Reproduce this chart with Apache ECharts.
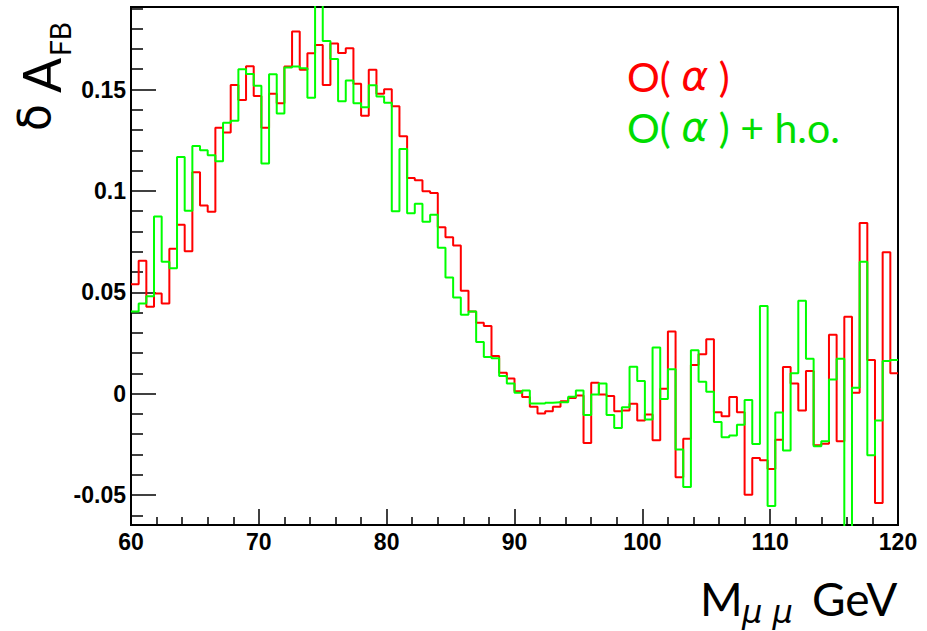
<!DOCTYPE html>
<html>
<head>
<meta charset="utf-8">
<title>delta A_FB vs M_mumu</title>
<script src="https://cdn.jsdelivr.net/npm/echarts@6.0.0/dist/echarts.min.js"></script>
<style>
html, body { margin: 0; padding: 0; background: #fff; }
#chart { width: 927px; height: 631px; }
</style>
</head>
<body>
<div id="chart"></div>
<script>
// 100 bins of 0.6 GeV between 60 and 120 GeV
var massLow = 60;
var binWidth = 0.6;

// O(alpha), red histogram
var afbOalpha = [
  0.054, 0.0656, 0.0428, 0.0494, 0.0445, 0.0714, 0.0833, 0.0702, 0.1092, 0.0928,
  0.0897, 0.1311, 0.1288, 0.1522, 0.1448, 0.1615, 0.1468, 0.1311, 0.1479, 0.1432,
  0.1613, 0.1786, 0.1597, 0.1679, 0.1719, 0.1522, 0.1727, 0.168, 0.1704, 0.1529,
  0.137, 0.1597, 0.1479, 0.1501, 0.1418, 0.127, 0.1063, 0.1052, 0.0998, 0.0989,
  0.0821, 0.0771, 0.073, 0.0507, 0.0405, 0.0349, 0.0333, 0.0186, 0.0103, 0.0075,
  0.0012, -0.0017, -0.0065, -0.0098, -0.0087, -0.0065, -0.0037, -0.0021, -0.0009, -0.0244,
  0.0054, -0.0004, -0.0012, -0.0087, -0.0083, -0.005, -0.0133, -0.0103, -0.023, 0.0024,
  0.0306, -0.0412, -0.0222, 0.0141, 0.0194, 0.0268, -0.0092, -0.0111, -0.0017, -0.0092,
  -0.0499, -0.0318, -0.0329, -0.0372, -0.0227, 0.0131, 0.005, -0.0083, 0.0111, -0.0255,
  -0.0247, 0.029, -0.0235, 0.0379, 0.0004, 0.0841, 0.0166, -0.054, 0.0697, 0.01
];

// O(alpha) + h.o., green histogram
var afbOalphaHo = [
  0.0405, 0.0445, 0.048, 0.0874, 0.0651, 0.0618, 0.1167, 0.0902, 0.1222, 0.12,
  0.1176, 0.1146, 0.1336, 0.1346, 0.16, 0.1577, 0.1519, 0.1135, 0.1575, 0.1382,
  0.1608, 0.1613, 0.1605, 0.1459, 0.2, 0.1739, 0.165, 0.1442, 0.1544, 0.1432,
  0.1412, 0.1521, 0.1466, 0.1435, 0.09, 0.1207, 0.089, 0.0937, 0.0848, 0.0882,
  0.0719, 0.0573, 0.0474, 0.0389, 0.0405, 0.0255, 0.0181, 0.0174, 0.0087, 0.005,
  0.0004, 0.0016, -0.0049, -0.0049, -0.0045, -0.0042, -0.0042, -0.0016, 0.0016, -0.0106,
  -0.0004, 0.005, -0.0106, -0.0169, -0.0067, 0.0133, 0.0062, -0.0128, 0.0227, -0.0026,
  0.012, -0.0276, -0.046, 0.0214, 0.0058, 0.0009, -0.014, -0.0215, -0.0207, -0.0153,
  -0.0031, -0.0248, 0.0432, -0.0554, -0.0093, -0.0281, 0.01, 0.0458, 0.0172, -0.026,
  -0.0235, 0.007, 0.0172, -0.08, 0.0029, 0.0651, -0.0304, -0.0133, 0.0161, 0.0166
];

var yTicks = [-0.05, 0, 0.05, 0.1, 0.15];
var yTickLabels = ['-0.05', '0', '0.05', '0.1', '0.15'];
var yMinorTicks = [-0.06, -0.04, -0.03, -0.02, -0.01, 0.01, 0.02, 0.03, 0.04, 0.06, 0.07, 0.08, 0.09,
  0.11, 0.12, 0.13, 0.14, 0.16, 0.17, 0.18, 0.19];

var yMin = -0.0648;
var yMax = 0.1907;

// bin contents -> step line points (left edge of each bin + closing point at 120)
function toSteps(vals) {
  var pts = vals.map(function (v, i) {
    return [Math.round((massLow + i * binWidth) * 10) / 10, v];
  });
  pts.push([Math.round((massLow + vals.length * binWidth) * 10) / 10, vals[vals.length - 1]]);
  return pts;
}

var labelFont = 'Liberation Sans, Arial, sans-serif';
var titleFont = 'Lato, DejaVu Sans, sans-serif';

var myChart = echarts.init(document.getElementById('chart'), null, { renderer: 'svg' });
myChart.setOption({
  animation: false,
  backgroundColor: '#fff',
  grid: {
    left: 131, right: 29, top: 7, bottom: 106,
    show: true, borderColor: '#000', borderWidth: 2,
    containLabel: false
  },
  xAxis: {
    type: 'value', min: 60, max: 120, interval: 10,
    axisLine: { show: true, onZero: false, lineStyle: { color: '#000', width: 2 } },
    axisTick: { show: true, inside: true, length: 16, lineStyle: { color: '#000', width: 1.5 } },
    minorTick: { show: true, splitNumber: 5, length: 8, lineStyle: { color: '#000', width: 1.5 } },
    axisLabel: {
      show: true, showMinLabel: true, showMaxLabel: true, margin: 5,
      color: '#000', fontFamily: labelFont, fontWeight: 'bold', fontSize: 23
    },
    splitLine: { show: false }
  },
  yAxis: [{
    type: 'value', min: yMin, max: yMax,
    axisLine: { show: true, lineStyle: { color: '#000', width: 2 } },
    axisTick: { show: true, inside: true, length: 25, customValues: yTicks, lineStyle: { color: '#000', width: 1.5 } },
    axisLabel: {
      show: true, customValues: yTicks, margin: 5,
      color: '#000', fontFamily: labelFont, fontWeight: 'bold', fontSize: 23,
      formatter: function (v) {
        for (var i = 0; i < yTicks.length; i++) {
          if (Math.abs(v - yTicks[i]) < 1e-6) return yTickLabels[i];
        }
        return '';
      }
    },
    splitLine: { show: false }
  }, {
    type: 'value', min: yMin, max: yMax, position: 'left', offset: 0,
    axisLine: { show: false },
    axisTick: { show: true, inside: true, length: 12, customValues: yMinorTicks, lineStyle: { color: '#000', width: 1.5 } },
    axisLabel: { show: false },
    splitLine: { show: false }
  }],
  series: [{
    name: 'O(α)',
    type: 'line', step: 'end', symbol: 'none', clip: true,
    data: toSteps(afbOalpha),
    lineStyle: { color: '#ff0000', width: 2 },
    itemStyle: { color: '#ff0000' }
  }, {
    name: 'O(α) + h.o.',
    type: 'line', step: 'end', symbol: 'none', clip: true,
    data: toSteps(afbOalphaHo),
    lineStyle: { color: '#00ff00', width: 2 },
    itemStyle: { color: '#00ff00' }
  }],
  graphic: [
    // legend texts
    {
      type: 'text', x: 627, y: 76,
      style: {
        text: 'O( {a|α} )', fill: '#ff0000', font: '41px ' + titleFont,
        textVerticalAlign: 'middle', verticalAlign: 'middle',
        rich: { a: { fontStyle: 'italic', fontSize: 41, fontFamily: 'DejaVu Sans', fill: '#ff0000', color: '#ff0000' } }
      }
    },
    {
      type: 'text', x: 627, y: 127,
      style: {
        text: 'O( {a|α} ) + h.o.', fill: '#00dd00', font: '41px ' + titleFont,
        textVerticalAlign: 'middle', verticalAlign: 'middle',
        rich: { a: { fontStyle: 'italic', fontSize: 41, fontFamily: 'DejaVu Sans', fill: '#00dd00', color: '#00dd00' } }
      }
    },
    // x axis title: M_{mu mu} GeV
    {
      type: 'text', x: 700, y: 598,
      style: { text: 'M', fill: '#000', font: '46px ' + titleFont, textVerticalAlign: 'middle', verticalAlign: 'middle' }
    },
    {
      type: 'text', x: 742, y: 612,
      style: { text: 'μ μ', fill: '#000', font: 'italic 32px DejaVu Sans', textVerticalAlign: 'middle', verticalAlign: 'middle' }
    },
    {
      type: 'text', x: 812, y: 598,
      style: { text: 'GeV', fill: '#000', font: '46px ' + titleFont, textVerticalAlign: 'middle', verticalAlign: 'middle' }
    },
    // y axis title: delta A_FB (rotated)
    {
      type: 'text', x: 34, y: 131, rotation: Math.PI / 2,
      style: { text: 'δ', fill: '#000', font: '44px DejaVu Sans', textVerticalAlign: 'middle', verticalAlign: 'middle' }
    },
    {
      type: 'text', x: 41, y: 93, rotation: Math.PI / 2,
      style: { text: 'A', fill: '#000', font: '52px ' + titleFont, textVerticalAlign: 'middle', verticalAlign: 'middle' }
    },
    {
      type: 'text', x: 60, y: 56, rotation: Math.PI / 2,
      style: { text: 'FB', fill: '#000', font: '28px ' + titleFont, textVerticalAlign: 'middle', verticalAlign: 'middle' }
    }
  ]
});
</script>
</body>
</html>
